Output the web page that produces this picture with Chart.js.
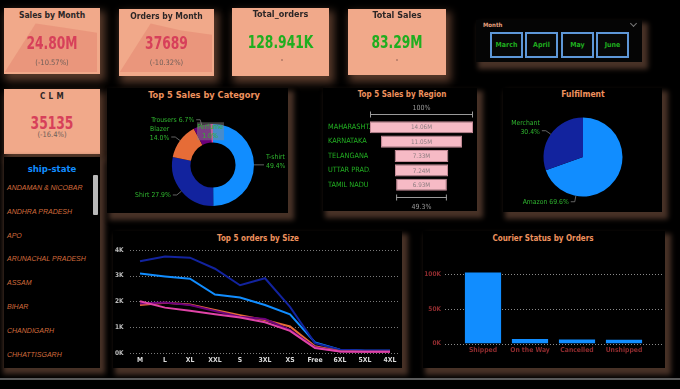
<!DOCTYPE html>
<html>
<head>
<meta charset="utf-8">
<script src="https://cdn.jsdelivr.net/npm/chart.js@4.4.1/dist/chart.umd.min.js"></script>
<style>
  body { margin:0; background:#000; width:680px; height:389px; overflow:hidden; position:relative;
         font-family:'Liberation Sans Narrow','DejaVu Sans Condensed','Liberation Sans',sans-serif; }
  .abs { position:absolute; }
  .card { position:absolute; background:#F1A98A; box-shadow:3px 5px 8px 2px rgba(92,60,44,0.95); overflow:hidden; }
  .panel { position:absolute; background:#000; box-shadow:4px 5px 5px 2px rgba(72,50,39,1); }
  .ctitle { position:absolute; left:0; width:100%; text-align:center; font-weight:bold; font-size:8.5px; line-height:11px; color:#2c2626; z-index:2; }
  .cval { position:absolute; left:0; width:100%; text-align:center; font-weight:bold; font-size:18px; line-height:20px; z-index:2; transform:scaleX(0.76); }
  .csub { position:absolute; left:0; width:100%; text-align:center; font-size:7.5px; line-height:9px; color:#6e5e58; z-index:2; }
  .red { color:#D7405A; }
  .green { color:#1FAE1F; }
  .ptitle { position:absolute; width:200px; text-align:center; font-weight:bold; font-size:8px; line-height:11px; color:#EE925E; }
  .mbtn { position:absolute; top:12px; width:33px; height:26px; box-sizing:border-box; border:2px solid #5E97D8;
          background:#070707; color:#1FAE1F; font-weight:bold; font-size:7px; line-height:22px; text-align:center; }
  .state { position:absolute; left:3px; font-family:'Liberation Sans',sans-serif; font-style:italic; font-size:7px; line-height:9px; color:#D26B3C; white-space:nowrap; }
  canvas { position:absolute; }
</style>
</head>
<body>

<!-- KPI cards -->
<div class="card" style="left:4px;top:8px;width:96px;height:66px;">
  <canvas id="salesSpark" width="92" height="51" style="left:1px;top:13px;"></canvas>
  <div class="ctitle" style="top:2px;">Sales by Month</div>
  <div class="cval red" id="salesVal" style="top:25px;"></div>
  <div class="csub" id="salesSub" style="top:50px;"></div>
</div>
<div class="card" style="left:119px;top:9px;width:95px;height:67px;">
  <canvas id="ordersSpark" width="92" height="51" style="left:1px;top:12px;"></canvas>
  <div class="ctitle" style="top:2px;">Orders by Month</div>
  <div class="cval red" id="ordersVal" style="top:24px;"></div>
  <div class="csub" id="ordersSub" style="top:49px;"></div>
</div>
<div class="card" style="left:232px;top:8px;width:97px;height:68px;">
  <div class="ctitle" style="top:1px;font-size:9px;">Total_orders</div>
  <div class="cval green" id="totalOrdersVal" style="top:24px;"></div>
  <div class="abs" style="left:49px;top:51px;width:2px;height:2px;border-radius:1px;background:#B07A66;"></div>
</div>
<div class="card" style="left:348px;top:9px;width:98px;height:66px;">
  <div class="ctitle" style="top:1px;font-size:9px;">Total Sales</div>
  <div class="cval green" id="totalSalesVal" style="top:23px;"></div>
  <div class="abs" style="left:48px;top:50px;width:2px;height:2px;border-radius:1px;background:#B07A66;"></div>
</div>
<div class="card" style="left:4px;top:89px;width:96px;height:65px;">
  <div class="ctitle" style="top:2px;letter-spacing:0.4px;font-size:8px;">C L M</div>
  <div class="cval red" id="clmVal" style="top:24px;"></div>
  <div class="csub" id="clmSub" style="top:41px;"></div>
</div>

<!-- Month slicer -->
<div class="panel" id="monthSlicer" style="left:476px;top:20px;width:166px;height:42px;background:#050505;">
  <div class="abs" style="left:7px;top:1px;font-size:6px;font-weight:bold;color:#E6A07E;">Month</div>
  <div class="abs" style="left:155px;top:1px;width:4px;height:4px;border-right:1px solid #777;border-bottom:1px solid #777;transform:rotate(45deg);"></div>
</div>

<!-- ship-state slicer -->
<div class="panel" id="stateSlicer" style="left:4px;top:157px;width:96px;height:211px;box-shadow:2px 3px 5px 3px rgba(72,50,39,1);">
  <div class="abs" style="left:0;top:6px;width:96px;text-align:center;font-weight:bold;font-size:9.5px;line-height:11px;color:#118DFF;">ship-state</div>
  <div class="abs" style="left:89px;top:18px;width:5px;height:40px;background:#B8B8B8;border-radius:1px;"></div>
</div>

<!-- chart panels -->
<div class="panel" style="left:107px;top:88px;width:181px;height:125px;"></div>
<div class="panel" style="left:323px;top:88px;width:154px;height:123px;"></div>
<div class="panel" style="left:503px;top:88px;width:159px;height:124px;"></div>
<div class="panel" style="left:113px;top:231px;width:289px;height:137px;"></div>
<div class="panel" style="left:423px;top:231px;width:242px;height:137px;"></div>

<div class="ptitle" style="left:104px;top:89px;font-size:9.2px;">Top 5 Sales by Category</div>
<div class="ptitle" style="left:302px;top:89px;">Top 5 Sales by Region</div>
<div class="ptitle" style="left:483px;top:89px;font-size:8.5px;">Fulfilment</div>
<div class="ptitle" style="left:158px;top:233px;">Top 5 orders by Size</div>
<div class="ptitle" style="left:443px;top:233px;">Courier Status by Orders</div>

<canvas id="categoryChart" width="181" height="113" style="left:107px;top:100px;"></canvas>
<canvas id="regionChart" width="154" height="112" style="left:323px;top:100px;"></canvas>
<canvas id="fulfilChart" width="160" height="113" style="left:503px;top:100px;"></canvas>
<canvas id="sizeChart" width="305" height="124" style="left:100px;top:242px;"></canvas>
<canvas id="courierChart" width="242" height="121" style="left:423px;top:245px;"></canvas>

<div class="abs" style="left:0;top:378px;width:680px;height:2px;background:#5a5a5a;"></div>

<script>
const FONT = "'Liberation Sans Narrow','DejaVu Sans Condensed','Liberation Sans',sans-serif";

// KPI values
const months = ['March', 'April', 'May', 'June'];
const monthSales = [0.10, 30.66, 27.73, 24.80];      // M
const monthOrders = [171, 49055, 42026, 37689];
const totalOrdersText = '128.941K';
const totalSalesText = '83.29M';
const clmValue = 35135;
const clmChange = -16.4;
const salesChange = -10.57;
const ordersChange = -10.32;

// ship-state slicer
const states = ['ANDAMAN & NICOBAR', 'ANDHRA PRADESH', 'APO', 'ARUNACHAL PRADESH', 'ASSAM', 'BIHAR', 'CHANDIGARH', 'CHHATTISGARH'];

// category donut (share %)
const categories = ['T-shirt', 'Shirt', 'Blazer', 'Trousers', 'Perfume'];
const categoryShare = [49.4, 27.9, 14.0, 6.7, 1.0];

// region funnel (M)
const regions = ['MAHARASHT...', 'KARNATAKA', 'TELANGANA', 'UTTAR PRAD...', 'TAMIL NADU'];
const regionSales = [14.06, 11.05, 7.33, 7.24, 6.93];

// fulfilment pie (share %)
const fulfilment = ['Amazon', 'Merchant'];
const fulfilShare = [69.6, 30.4];

// orders by size
const sizes = ['M', 'L', 'XL', 'XXL', 'S', '3XL', 'XS', 'Free', '6XL', '5XL', '4XL'];
const tshirtOrders = [3080, 2970, 2880, 2270, 2150, 1860, 1500, 410, 130, 90, 90];
const shirtOrders = [3560, 3740, 3700, 3270, 2630, 2900, 1790, 380, 130, 100, 100];
const blazerOrders = [1860, 1950, 1880, 1670, 1470, 1280, 1030, 260, 70, 50, 50];
const trousersOrders = [1920, 1960, 1860, 1630, 1410, 1320, 900, 220, 60, 50, 50];
const perfumeOrders = [2010, 1760, 1640, 1500, 1380, 1190, 860, 190, 60, 50, 50];
const sizeTicks = [0, 1000, 2000, 3000, 4000];

// courier status
const courierStatus = ['Shipped', 'On the Way', 'Cancelled', 'Unshipped'];
const courierOrders = [102700, 6500, 5800, 5400];
const courierTicks = [0, 50000, 100000];

Chart.defaults.font.family = FONT;
Chart.defaults.animation = false;
Chart.defaults.plugins.legend.display = false;
Chart.defaults.plugins.tooltip.enabled = false;

// ---------- KPI text ----------
document.getElementById('salesVal').textContent = monthSales[3].toFixed(2) + 'M';
document.getElementById('salesSub').textContent = '(' + salesChange + '%)';
document.getElementById('ordersVal').textContent = monthOrders[3];
document.getElementById('ordersSub').textContent = '(' + ordersChange + '%)';
document.getElementById('totalOrdersVal').textContent = totalOrdersText;
document.getElementById('totalSalesVal').textContent = totalSalesText;
document.getElementById('clmVal').textContent = clmValue;
document.getElementById('clmSub').textContent = '(' + clmChange + '%)';

const slicer = document.getElementById('monthSlicer');
const btnLeft = [14, 49, 85, 120];
months.forEach((m, i) => {
    const b = document.createElement('div');
    b.className = 'mbtn';
    b.style.left = btnLeft[i] + 'px';
    b.textContent = m;
    slicer.appendChild(b);
});

const stateBox = document.getElementById('stateSlicer');
states.forEach((s, i) => {
    const d = document.createElement('div');
    d.className = 'state';
    d.style.top = (26 + i * 23.8) + 'px';
    d.textContent = s;
    stateBox.appendChild(d);
});

function sparkline(id, values) {
    new Chart(document.getElementById(id), {
        type: 'line',
        data: {
            labels: months,
            datasets: [{
                data: values,
                fill: 'origin',
                backgroundColor: 'rgba(214,96,84,0.25)',
                borderWidth: 0,
                pointRadius: 0,
                tension: 0
            }]
        },
        options: {
            responsive: false,
            layout: { padding: 0 },
            scales: {
                x: { display: false },
                y: { display: false, min: 0, max: Math.max(...values) * 1.05 }
            }
        }
    });
}
sparkline('salesSpark', monthSales);
sparkline('ordersSpark', monthOrders);

// ---------- slice labels for pie / donut ----------
const sliceLabels = {
    id: 'sliceLabels',
    afterDatasetsDraw(chart, args, opts) {
        const ctx = chart.ctx;
        const meta = chart.getDatasetMeta(0);
        const data = chart.data.datasets[0].data;
        const total = data.reduce((a, b) => a + b, 0);
        const at = opts.at || [];
        ctx.save();
        ctx.font = '6.8px ' + FONT;
        ctx.textBaseline = 'middle';
        meta.data.forEach((arc, i) => {
            const p = arc.getProps(['x', 'y', 'startAngle', 'endAngle', 'innerRadius', 'outerRadius'], true);
            const name = chart.data.labels[i];
            const pct = data[i].toFixed(1) + '%';
            const f = at[i] !== undefined ? at[i] : 0.5;
            const a = p.startAngle + (p.endAngle - p.startAngle) * f;
            const c = Math.cos(a), s = Math.sin(a);
            if (data[i] / total < 0.03) {
                // tiny slice: label sits on the ring in a box
                const r = (p.innerRadius + p.outerRadius) / 2;
                const cx = p.x + c * r - 2, cy = p.y + s * r - 2;
                ctx.fillStyle = 'rgba(140,140,140,0.45)';
                ctx.fillRect(cx - 13, cy - 9, 27, 18);
                ctx.fillStyle = '#2FB52F';
                ctx.textAlign = 'center';
                ctx.fillText(name, cx, cy - 4);
                ctx.fillText(pct, cx, cy + 4.5);
                return;
            }
            const x0 = p.x + c * p.outerRadius, y0 = p.y + s * p.outerRadius;
            const x1 = p.x + c * (p.outerRadius + 6), y1 = p.y + s * (p.outerRadius + 6);
            const dir = c >= 0 ? 1 : -1;
            const x2 = x1 + dir * 4;
            ctx.strokeStyle = '#7c7c7c';
            ctx.lineWidth = 0.8;
            ctx.beginPath();
            ctx.moveTo(x0, y0);
            ctx.lineTo(x1, y1);
            ctx.lineTo(x2, y1);
            ctx.stroke();
            ctx.fillStyle = '#2FB52F';
            ctx.textAlign = dir > 0 ? 'left' : 'right';
            const tx = x2 + dir * 2;
            if (Math.abs(c) > 0.78) {
                const ty = y1 - 3;
                ctx.fillText(name, tx, ty - 4.5);
                ctx.fillText(pct, tx, ty + 4.5);
            } else {
                ctx.fillText(name + ' ' + pct, tx, y1);
            }
        });
        ctx.restore();
    }
};

new Chart(document.getElementById('categoryChart'), {
    type: 'doughnut',
    data: {
        labels: categories,
        datasets: [{
            data: categoryShare,
            backgroundColor: ['#118DFF', '#12239E', '#E66C37', '#6B007B', '#E044A7'],
            borderWidth: 0
        }]
    },
    options: {
        responsive: false,
        cutout: '55%',
        layout: { padding: { left: 65, right: 34, top: 24, bottom: 7 } },
        plugins: { sliceLabels: {} }
    },
    plugins: [sliceLabels]
});

new Chart(document.getElementById('fulfilChart'), {
    type: 'pie',
    data: {
        labels: fulfilment,
        datasets: [{
            data: fulfilShare,
            backgroundColor: ['#118DFF', '#12239E'],
            borderWidth: 0
        }]
    },
    options: {
        responsive: false,
        layout: { padding: { left: 40.5, right: 40.5, top: 17.5, bottom: 16.5 } },
        plugins: { sliceLabels: { at: [0.76, 0.5] } }
    },
    plugins: [sliceLabels]
});

// ---------- funnel ----------
const funnelMarks = {
    id: 'funnelMarks',
    afterDatasetsDraw(chart) {
        const ctx = chart.ctx;
        const bars = chart.getDatasetMeta(0).data;
        ctx.save();
        ctx.font = '6.3px ' + FONT;
        ctx.textAlign = 'center';
        ctx.textBaseline = 'middle';
        ctx.fillStyle = '#8c7d80';
        bars.forEach((b, i) => {
            ctx.fillText(regionSales[i].toFixed(2) + 'M', (b.x + b.base) / 2, b.y + 0.5);
        });
        const first = bars[0], last = bars[bars.length - 1];
        const bracket = (b, y, label, ty) => {
            const l = Math.min(b.x, b.base), r = Math.max(b.x, b.base);
            ctx.strokeStyle = '#9a9a9a';
            ctx.lineWidth = 1;
            ctx.beginPath();
            ctx.moveTo(l, y); ctx.lineTo(r, y);
            ctx.moveTo(l + 0.5, y - 3); ctx.lineTo(l + 0.5, y + 3);
            ctx.moveTo(r - 0.5, y - 3); ctx.lineTo(r - 0.5, y + 3);
            ctx.stroke();
            ctx.fillStyle = '#9a9a9a';
            ctx.font = '7px ' + FONT;
            ctx.fillText(label, (l + r) / 2, ty);
        };
        const pct = (last.x - last.base) / (first.x - first.base) * 100;
        bracket(first, Math.round(first.y - first.height / 2) - 6.5, '100%', first.y - first.height / 2 - 13);
        bracket(last, Math.round(last.y + last.height / 2) + 6.5, pct.toFixed(1) + '%', last.y + last.height / 2 + 16);
        ctx.restore();
    }
};

new Chart(document.getElementById('regionChart'), {
    type: 'bar',
    data: {
        labels: regions,
        datasets: [{
            data: regionSales.map(v => [-v / 2, v / 2]),
            backgroundColor: '#F6BAC5',
            borderColor: '#C68C98',
            borderWidth: 1,
            borderSkipped: false,
            barPercentage: 0.84,
            categoryPercentage: 1
        }]
    },
    options: {
        indexAxis: 'y',
        responsive: false,
        layout: { padding: { left: 5, right: 4, top: 20, bottom: 20 } },
        scales: {
            x: { display: false, min: -regionSales[0] / 2, max: regionSales[0] / 2 },
            y: {
                grid: { display: false },
                border: { display: false },
                ticks: { color: '#22B022', font: { size: 7.3 }, crossAlign: 'far', padding: 0 },
                afterFit(s) { s.width = 42; }
            }
        }
    },
    plugins: [funnelMarks]
});

// ---------- dotted grid ----------
const dottedGrid = {
    id: 'dottedGrid',
    beforeDatasetsDraw(chart, args, opts) {
        const ctx = chart.ctx;
        const area = chart.chartArea;
        const y = chart.scales.y;
        ctx.save();
        ctx.strokeStyle = opts.color || '#808080';
        ctx.lineWidth = 1;
        ctx.setLineDash([1, 2]);
        y.ticks.forEach(t => {
            const py = Math.round(y.getPixelForValue(t.value)) + 0.5;
            ctx.beginPath();
            ctx.moveTo(area.left - opts.ext, py);
            ctx.lineTo(area.right + opts.ext, py);
            ctx.stroke();
        });
        ctx.restore();
    }
};

const sizeSeries = [
    { label: 'T-shirt', data: tshirtOrders, color: '#118DFF' },
    { label: 'Shirt', data: shirtOrders, color: '#12239E' },
    { label: 'Blazer', data: blazerOrders, color: '#E66C37' },
    { label: 'Trousers', data: trousersOrders, color: '#6B007B' },
    { label: 'Perfume', data: perfumeOrders, color: '#E044A7' }
];

new Chart(document.getElementById('sizeChart'), {
    type: 'line',
    data: {
        labels: sizes,
        datasets: sizeSeries.map((s, i) => ({
            label: s.label,
            data: s.data,
            borderColor: s.color,
            borderWidth: 2,
            pointRadius: 0,
            tension: 0,
            order: -i
        }))
    },
    options: {
        responsive: false,
        layout: { padding: { left: 0, right: 2.5, top: 7, bottom: 0 } },
        plugins: { dottedGrid: { ext: -2.5, color: '#7a7a7a' } },
        scales: {
            x: {
                offset: true,
                grid: { display: false, drawTicks: false },
                border: { display: false },
                ticks: { color: '#dcdcdc', font: { size: 6.8, weight: 'bold' }, padding: 3, maxRotation: 0, autoSkip: false },
                afterFit(s) { s.height = 13; }
            },
            y: {
                min: 0, max: 4000,
                afterBuildTicks(s) { s.ticks = sizeTicks.map(v => ({ value: v })); },
                grid: { display: false, drawTicks: false },
                border: { display: false },
                ticks: { color: '#bdbdbd', font: { size: 6.5, weight: 'bold' }, padding: 4, callback: v => (v / 1000) + 'K' },
                afterFit(s) { s.width = 27.5; }
            }
        }
    },
    plugins: [dottedGrid]
});

new Chart(document.getElementById('courierChart'), {
    type: 'bar',
    data: {
        labels: courierStatus,
        datasets: [{
            data: courierOrders,
            backgroundColor: '#118DFF',
            barPercentage: 0.77,
            categoryPercentage: 1
        }]
    },
    options: {
        responsive: false,
        layout: { padding: { left: 0, right: 17.5, top: 13.3, bottom: 0 } },
        plugins: { dottedGrid: { ext: 14.5, color: '#8a8a8a' } },
        scales: {
            x: {
                grid: { display: false, drawTicks: false },
                border: { display: false },
                ticks: { color: '#8E2B2E', font: { size: 6.8, weight: 'bold' }, padding: 3, maxRotation: 0, autoSkip: false },
                afterFit(s) { s.height = 12; }
            },
            y: {
                min: 0, max: 110000,
                afterBuildTicks(s) { s.ticks = courierTicks.map(v => ({ value: v })); },
                grid: { display: false, drawTicks: false },
                border: { display: false },
                ticks: { color: '#8E2B2E', font: { size: 6.5, weight: 'bold' }, padding: 18.5, callback: v => (v / 1000) + 'K' },
                afterFit(s) { s.width = 36.5; }
            }
        }
    },
    plugins: [dottedGrid]
});
</script>
</body>
</html>
